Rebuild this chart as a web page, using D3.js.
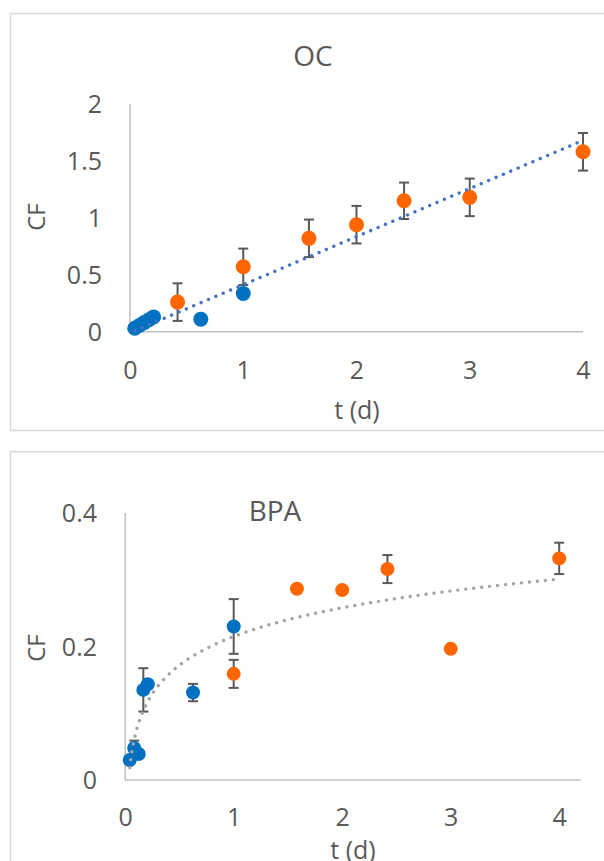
<!DOCTYPE html>
<html>
<head>
<meta charset="utf-8">
<script src="https://cdn.jsdelivr.net/npm/d3@7"></script>
<style>
  html, body { margin: 0; padding: 0; background: #ffffff; }
  svg { display: block; }
  text { font-family: "Open Sans", "Noto Sans", sans-serif; fill: #595959; }
</style>
</head>
<body>
<svg id="chart" width="604" height="861"></svg>
<script>
// ---- OC panel data ----
const ocBlueT   = [0.042, 0.083, 0.125, 0.167, 0.208, 0.625, 1.0];
const ocBlueCF  = [0.03, 0.055, 0.08, 0.105, 0.13, 0.11, 0.336];
const ocOrangeT   = [0.42, 1.0, 1.58, 2.0, 2.42, 3.0, 4.0];
const ocOrangeCF  = [0.26, 0.57, 0.82, 0.94, 1.15, 1.18, 1.58];
const ocOrangeErr = [0.165, 0.16, 0.165, 0.165, 0.16, 0.165, 0.165];
const ocXTicks = [0, 1, 2, 3, 4];
const ocYTicks = [0, 0.5, 1, 1.5, 2];
const ocYTickLabels = ["0", "0.5", "1", "1.5", "2"];
// linear trendline CF = slope * t + intercept
const ocTrendSlope = 0.4225;
const ocTrendIntercept = -0.01;

// ---- BPA panel data ----
const bpaBlueT   = [0.042, 0.083, 0.125, 0.167, 0.208, 0.625, 1.0];
const bpaBlueCF  = [0.030, 0.048, 0.039, 0.135, 0.1435, 0.131, 0.23];
const bpaBlueErr = [0, 0.011, 0, 0.0325, 0, 0.013, 0.041];
const bpaOrangeT   = [1.0, 1.583, 2.0, 2.417, 3.0, 4.0];
const bpaOrangeCF  = [0.159, 0.2865, 0.2845, 0.316, 0.1965, 0.332];
const bpaOrangeErr = [0.021, 0, 0, 0.021, 0, 0.0235];
const bpaXTicks = [0, 1, 2, 3, 4];
const bpaYTicks = [0, 0.2, 0.4];
const bpaYTickLabels = ["0", "0.2", "0.4"];
// logarithmic trendline CF = a * ln(t) + b
const bpaTrendA = 0.062;
const bpaTrendB = 0.215;

const blue = "#0070C0";
const orange = "#FF6600";
const axisGrey = "#BFBFBF";
const errGrey = "#595959";

const svg = d3.select("#chart");

function toPoints(ts, cfs, errs) {
  return ts.map((t, i) => ({ t, cf: cfs[i], err: errs ? errs[i] : 0 }));
}

function drawPanel(p) {
  const g = svg.append("g");

  // chart frame
  g.append("rect")
    .attr("x", p.frame.x).attr("y", p.frame.y)
    .attr("width", p.frame.w).attr("height", p.frame.h)
    .attr("fill", "#ffffff")
    .attr("stroke", "#D9D9D9").attr("stroke-width", 1.5);

  const x = d3.scaleLinear().domain(p.xDomain).range([p.left, p.right]);
  const y = d3.scaleLinear().domain(p.yDomain).range([p.bottom, p.top]);

  // axis lines
  g.append("line")
    .attr("x1", x(p.xDomain[0])).attr("x2", x(p.xDomain[1]))
    .attr("y1", y(0)).attr("y2", y(0))
    .attr("stroke", axisGrey).attr("stroke-width", 1.5);
  g.append("line")
    .attr("x1", x(0)).attr("x2", x(0))
    .attr("y1", y(p.yDomain[0])).attr("y2", y(p.yDomain[1]))
    .attr("stroke", axisGrey).attr("stroke-width", 1.5);

  // tick labels
  const xAxis = d3.axisBottom(x).tickValues(p.xTicks).tickSize(0).tickPadding(0)
    .tickFormat(d3.format("d"));
  const xg = g.append("g").attr("transform", `translate(0,${p.xLabelY})`).call(xAxis);
  xg.select(".domain").remove();
  xg.selectAll("text")
    .attr("y", 0).attr("dy", "0.35em")
    .style("font-family", '"Open Sans", "Noto Sans", sans-serif')
    .style("font-size", "25px").style("fill", "#595959");

  const yAxis = d3.axisLeft(y).tickValues(p.yTicks).tickSize(0).tickPadding(0)
    .tickFormat((d, i) => p.yTickLabels[i]);
  const yg = g.append("g").attr("transform", `translate(${p.yLabelX},0)`).call(yAxis);
  yg.select(".domain").remove();
  yg.selectAll("text")
    .attr("x", 0).attr("dy", "0.35em")
    .style("font-family", '"Open Sans", "Noto Sans", sans-serif')
    .style("font-size", "25px").style("fill", "#595959");

  // titles
  g.append("text").attr("x", p.titleX).attr("y", p.titleY).attr("dy", "0.35em")
    .attr("text-anchor", "middle").style("font-size", "28px").text(p.title);
  g.append("text")
    .attr("transform", `translate(${p.cfX},${p.cfY}) rotate(-90)`)
    .attr("dy", "0.35em").attr("text-anchor", "middle")
    .style("font-size", "24px").text("CF");
  g.append("text").attr("x", p.tX).attr("y", p.tY).attr("dy", "0.35em")
    .attr("text-anchor", "middle").style("font-size", "25px").text("t (d)");

  // error bars
  const all = p.series.flatMap(s => s.points.filter(d => d.err > 0));
  const eb = g.append("g").attr("stroke", errGrey).attr("stroke-width", 2);
  const cap = 5;
  all.forEach(d => {
    const cx = x(d.t), yt = y(d.cf + d.err), yb = y(d.cf - d.err);
    eb.append("line").attr("x1", cx).attr("x2", cx).attr("y1", yt).attr("y2", yb);
    eb.append("line").attr("x1", cx - cap).attr("x2", cx + cap).attr("y1", yt).attr("y2", yt);
    eb.append("line").attr("x1", cx - cap).attr("x2", cx + cap).attr("y1", yb).attr("y2", yb);
  });

  // markers
  p.series.forEach(s => {
    g.append("g").selectAll("circle").data(s.points).join("circle")
      .attr("cx", d => x(d.t)).attr("cy", d => y(d.cf))
      .attr("r", p.r).attr("fill", s.color);
  });

  // trendline
  const tt = d3.range(0, 401).map(i => p.trendFrom + (p.trendTo - p.trendFrom) * i / 400);
  const line = d3.line().x(t => x(t)).y(t => y(p.trend(t)));
  g.append("path").attr("d", line(tt))
    .attr("fill", "none").attr("stroke", p.trendColor)
    .attr("stroke-width", 3.4).attr("stroke-linecap", "round")
    .attr("stroke-dasharray", "0.01 8");
}

drawPanel({
  frame: { x: 10.5, y: 13.5, w: 610, h: 417 },
  xDomain: [0, 4], yDomain: [0, 2],
  left: 130, right: 583, bottom: 331.7, top: 104,
  xTicks: ocXTicks, yTicks: ocYTicks, yTickLabels: ocYTickLabels,
  xLabelY: 370, yLabelX: 102,
  title: "OC", titleX: 313, titleY: 56,
  cfX: 37, cfY: 217, tX: 357, tY: 410,
  r: 7.5,
  series: [
    { color: blue, points: toPoints(ocBlueT, ocBlueCF) },
    { color: orange, points: toPoints(ocOrangeT, ocOrangeCF, ocOrangeErr) }
  ],
  trend: t => ocTrendSlope * t + ocTrendIntercept,
  trendFrom: 0.042, trendTo: 4, trendColor: "#4472C4"
});

drawPanel({
  frame: { x: 10.5, y: 451.7, w: 610, h: 430 },
  xDomain: [0, 4.2], yDomain: [0, 0.4],
  left: 125.2, right: 125.2 + 4.2 * 108.5, bottom: 780, top: 513,
  xTicks: bpaXTicks, yTicks: bpaYTicks, yTickLabels: bpaYTickLabels,
  xLabelY: 817, yLabelX: 97,
  title: "BPA", titleX: 275, titleY: 511,
  cfX: 37, cfY: 648, tX: 353, tY: 850,
  r: 7,
  series: [
    { color: blue, points: toPoints(bpaBlueT, bpaBlueCF, bpaBlueErr) },
    { color: orange, points: toPoints(bpaOrangeT, bpaOrangeCF, bpaOrangeErr) }
  ],
  trend: t => bpaTrendA * Math.log(t) + bpaTrendB,
  trendFrom: 0.042, trendTo: 4, trendColor: "#A5A5A5"
});
</script>
</body>
</html>
